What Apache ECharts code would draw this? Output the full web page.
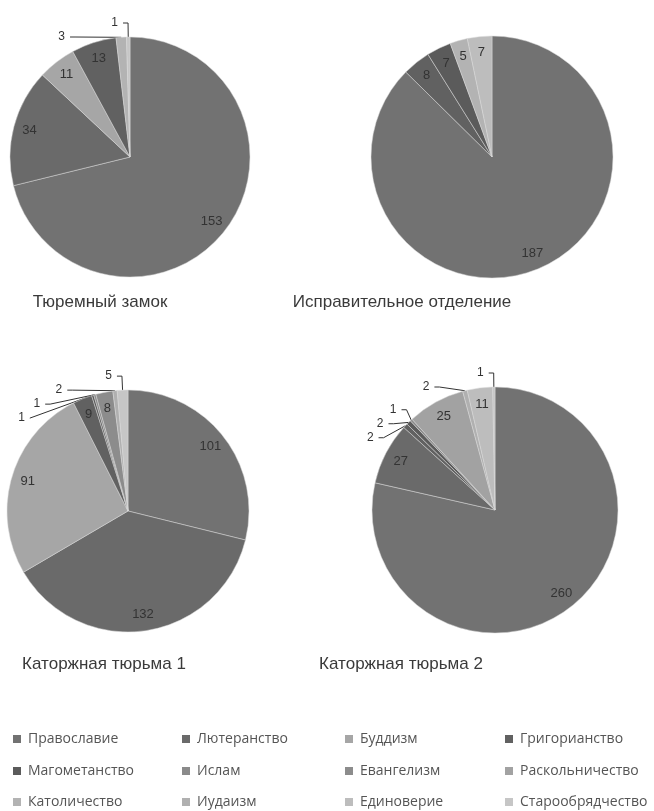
<!DOCTYPE html>
<html>
<head>
<meta charset="utf-8">
<script src="https://cdn.jsdelivr.net/npm/echarts@6/dist/echarts.min.js"></script>
<style>
html,body{margin:0;padding:0;background:#fff;}
#chart{width:654px;height:811px;}
</style>
</head>
<body>
<div id="chart"></div>
<script>
// Categories (legend order)
const categories = ['Православие','Лютеранство','Буддизм','Григорианство','Магометанство','Ислам','Евангелизм','Раскольничество','Католичество','Иудаизм','Единоверие','Старообрядчество'];
// Values per prison, in category order (0 = absent)
const zamok      = [153, 34, 11, 13, 0, 0, 0, 0, 3, 0, 0, 1];
const otdelenie  = [187, 0, 0, 8, 7, 0, 0, 0, 5, 0, 7, 0];
const katorga1   = [101, 132, 91, 9, 1, 1, 8, 0, 0, 2, 0, 5];
const katorga2   = [260, 27, 0, 2, 2, 1, 0, 25, 0, 2, 11, 1];
const titles = ['Тюремный замок','Исправительное отделение','Каторжная тюрьма 1','Каторжная тюрьма 2'];

const colors = {
  'Православие':'#727272','Лютеранство':'#6a6a6a','Буддизм':'#a6a6a6','Григорианство':'#616161',
  'Магометанство':'#5b5b5b','Ислам':'#8a8a8a','Евангелизм':'#8c8c8c','Раскольничество':'#a2a2a2',
  'Католичество':'#b3b3b3','Иудаизм':'#b0b0b0','Единоверие':'#bdbdbd','Старообрядчество':'#c6c6c6'
};

const pies = [
  {vals: zamok,     center: [130,157], r: 120, title: [95, 289]},
  {vals: otdelenie, center: [492,157], r: 121, title: [397, 289]},
  {vals: katorga1,  center: [128,511], r: 121, title: [99, 651]},
  {vals: katorga2,  center: [495,510], r: 123, title: [396, 651]}
];

const FONT = '"Liberation Sans", Arial, sans-serif';
const series = [];
const overlays = [];
pies.forEach(function(p){
  const total = p.vals.reduce(function(a,b){return a+b;},0);
  const data = [];
  const odata = [];
  categories.forEach(function(c,i){
    const v = p.vals[i];
    if (v <= 0) return;
    const small = v/total < 0.02;
    data.push({
      name: c, value: v,
      itemStyle: {color: colors[c]},
      label: {show: small},
      labelLine: {show: small}
    });
    odata.push({value: v, label: {show: !small}});
  });
  series.push({
    type: 'pie', center: p.center, radius: [0, p.r], startAngle: 90, clockwise: true,
    silent: true, animation: false,
    itemStyle: {borderColor: '#d8d8d8', borderWidth: 0.5},
    label: {position: 'outside', color: '#333', fontSize: 12, fontFamily: FONT, formatter: '{c}'},
    labelLine: {length: 14, length2: 5, lineStyle: {color: '#333', width: 1}},
    data: data
  });
  overlays.push({
    type: 'pie', center: p.center, radius: [p.r*0.76, p.r*0.92], startAngle: 90, clockwise: true,
    silent: true, animation: false,
    itemStyle: {color: 'rgba(0,0,0,0)'},
    label: {position: 'inside', color: '#333', fontSize: 13, fontFamily: FONT, formatter: '{c}'},
    labelLine: {show: false},
    data: odata
  });
});

const titleOpts = pies.map(function(p, i){
  return {text: titles[i], left: p.title[0], top: p.title[1], textAlign: 'center',
    textStyle: {fontSize: 17, fontWeight: 'normal', color: '#3a3a3a', fontFamily: FONT}};
});

const legendCols = [13, 182, 345, 505];
const legendRows = [732, 764, 795];
const legends = [];
categories.forEach(function(c, i){
  legends.push({
    orient: 'horizontal', left: legendCols[i % 4], top: legendRows[Math.floor(i / 4)],
    itemWidth: 8, itemHeight: 8, icon: 'rect', selectedMode: false, padding: 0,
    itemStyle: {borderWidth: 0},
    data: [c],
    textStyle: {fontSize: 14, color: '#555', fontFamily: '"Open Sans", sans-serif', padding: [0,0,0,2]}
  });
});

const chart = echarts.init(document.getElementById('chart'), null, {renderer: 'canvas'});
chart.setOption({
  backgroundColor: '#fff',
  animation: false,
  title: titleOpts,
  legend: legends,
  series: series.concat(overlays)
});
</script>
</body>
</html>
